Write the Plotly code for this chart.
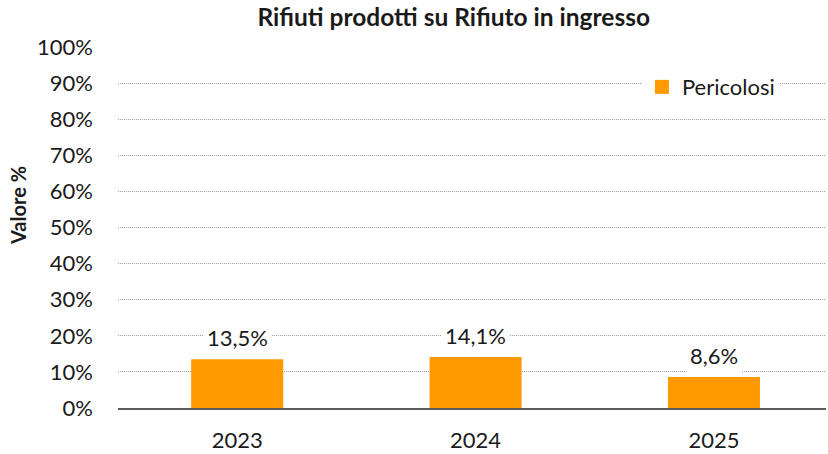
import plotly.graph_objects as go

years = ["2023", "2024", "2025"]
pericolosi = [13.5, 14.1, 8.6]
value_labels = ["13,5%", "14,1%", "8,6%"]
y_ticks = list(range(0, 101, 10))
y_tick_text = [f"{v}%" for v in y_ticks]

FONT = "Lato, 'Open Sans', sans-serif"
ORANGE = "#FF9900"
TEXT = "#1a1a1a"

fig = go.Figure()
fig.add_trace(go.Bar(
    x=years, y=pericolosi, name="Pericolosi",
    marker=dict(color=ORANGE, line=dict(width=0)),
    showlegend=False,
))
# legend entry with a larger square swatch
fig.add_trace(go.Scatter(
    x=[None], y=[None], mode="markers", name="Pericolosi",
    marker=dict(symbol="square", size=14, color=ORANGE),
    showlegend=True,
))

# value labels above each bar (category index positions)
for i, (y, t) in enumerate(zip(pericolosi, value_labels)):
    fig.add_annotation(
        x=i, y=y, xref="x", yref="y", text=t, showarrow=False,
        yanchor="bottom", yshift=4, bgcolor="white", borderpad=3,
        font=dict(family=FONT, size=22, color=TEXT),
    )

# vertical axis title
fig.add_annotation(
    x=-0.141, y=0.56, xref="paper", yref="paper", text="<b>Valore %</b>",
    textangle=-90, showarrow=False, xanchor="center", yanchor="middle",
    font=dict(family=FONT, size=20, color=TEXT),
)

fig.update_layout(
    width=828, height=454,
    margin=dict(l=118, r=2, t=47, b=46),
    paper_bgcolor="white", plot_bgcolor="white",
    bargap=0.614,
    title=dict(text="<b>Rifiuti prodotti su Rifiuto in ingresso</b>",
               x=0.548, xanchor="center", y=0.962, yanchor="middle",
               font=dict(family=FONT, size=24.5, color=TEXT)),
    font=dict(family=FONT, size=22, color=TEXT),
    legend=dict(x=0.74, y=0.889, xanchor="left", yanchor="middle",
                bgcolor="white", font=dict(family=FONT, size=22, color=TEXT),
                borderwidth=0, itemwidth=30, tracegroupgap=0),
    xaxis=dict(type="category", range=[-0.5, 2.47], showgrid=False,
               showline=True, linecolor="#595959", linewidth=1.5,
               ticks="", tickfont=dict(size=22), ticklabelstandoff=12),
    yaxis=dict(range=[0, 100], tickvals=y_ticks, ticktext=y_tick_text,
               showgrid=True, gridcolor="#9a9a9a", griddash="1px,1px", gridwidth=1,
               zeroline=False, showline=False, ticks="", ticklabelstandoff=24,
               tickfont=dict(size=22)),
)

fig.write_html("out.html")
